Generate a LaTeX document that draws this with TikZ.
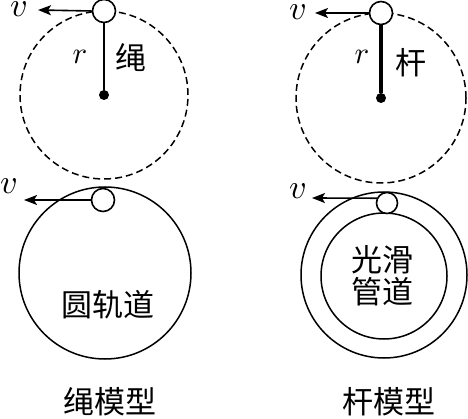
\documentclass[tikz,border=0pt]{standalone}
\usepackage{fontspec}
\newfontfamily\cjk{Noto Sans CJK SC}
\usetikzlibrary{arrows.meta}
\begin{document}
\begin{tikzpicture}[x=1pt, y=-1pt,
		ball/.style={circle, draw, fill=white, line width=1.6pt, inner sep=0pt, minimum size=23pt},
		dot/.style={circle, fill=black, inner sep=0pt, minimum size=10pt},
		path/.style={dashed, dash pattern=on 7pt off 4pt, line width=1.5pt},
		track/.style={line width=1.5pt},
		vel/.style={line width=1.6pt, -{Stealth[length=13pt, width=10pt, inset=3pt]}},
		lbl/.style={scale=3.4, inner sep=0pt},
		zi/.style={font=\fontsize{31}{33}\selectfont\cjk, inner sep=0pt}]
	\useasboundingbox (0, 0) rectangle (468, 419);

	% rope model
	\draw[path] (104, 95) circle[radius=84pt];
	\node[dot] (o1) at (104, 95) {};
	\node[ball] (b1) at (104, 11) {};
	\draw[line width=2pt] (b1) -- (o1);
	\coordinate (t1) at (38, 10);
	\draw[vel] (b1.west) -- (t1);
	\node[lbl] (v1) at (19, 9) {$v$};
	\node[lbl, scale=0.9] (r1) at (80, 57) {$r$};
	\node[zi] (s1) at (131, 58) {绳};

	\draw[track] (105, 273) circle[radius=86pt];
	\node[ball] (b3) at (103, 200) {};
	\coordinate (t3) at (24, 200);
	\draw[vel] (b3.west) -- (t3);
	\node[lbl] (v3) at (9, 186) {$v$};
	\node[zi] (g3) at (108, 305) {圆轨道};
	\node[zi] (m1) at (110, 402) {绳模型};

	% rod model
	\draw[path] (381, 98) circle[radius=85pt];
	\node[dot] (o2) at (381, 98) {};
	\node[ball] (b2) at (381, 13) {};
	\draw[line width=3.2pt] (b2) -- (o2);
	\coordinate (t2) at (315, 13);
	\draw[vel] (b2.west) -- (t2);
	\node[lbl] (v2) at (298, 12) {$v$};
	\node[lbl, scale=0.9] (r2) at (362, 57) {$r$};
	\node[zi] (s2) at (411, 63) {杆};

	\draw[track] (384, 275) circle[radius=83pt];
	\draw[track] (384, 276) circle[radius=63pt];
	\node[ball, minimum size=21pt] (b4) at (387, 203) {};
	\coordinate (t4) at (312, 198);
	\draw[vel] (b4.155) -- (t4);
	\node[lbl] (v4) at (298, 191) {$v$};
	\node[zi] (g4) at (382, 260) {光滑};
	\node[zi] (g5) at (382, 292) {管道};
	\node[zi] (m2) at (389, 402) {杆模型};
\end{tikzpicture}
\end{document}
